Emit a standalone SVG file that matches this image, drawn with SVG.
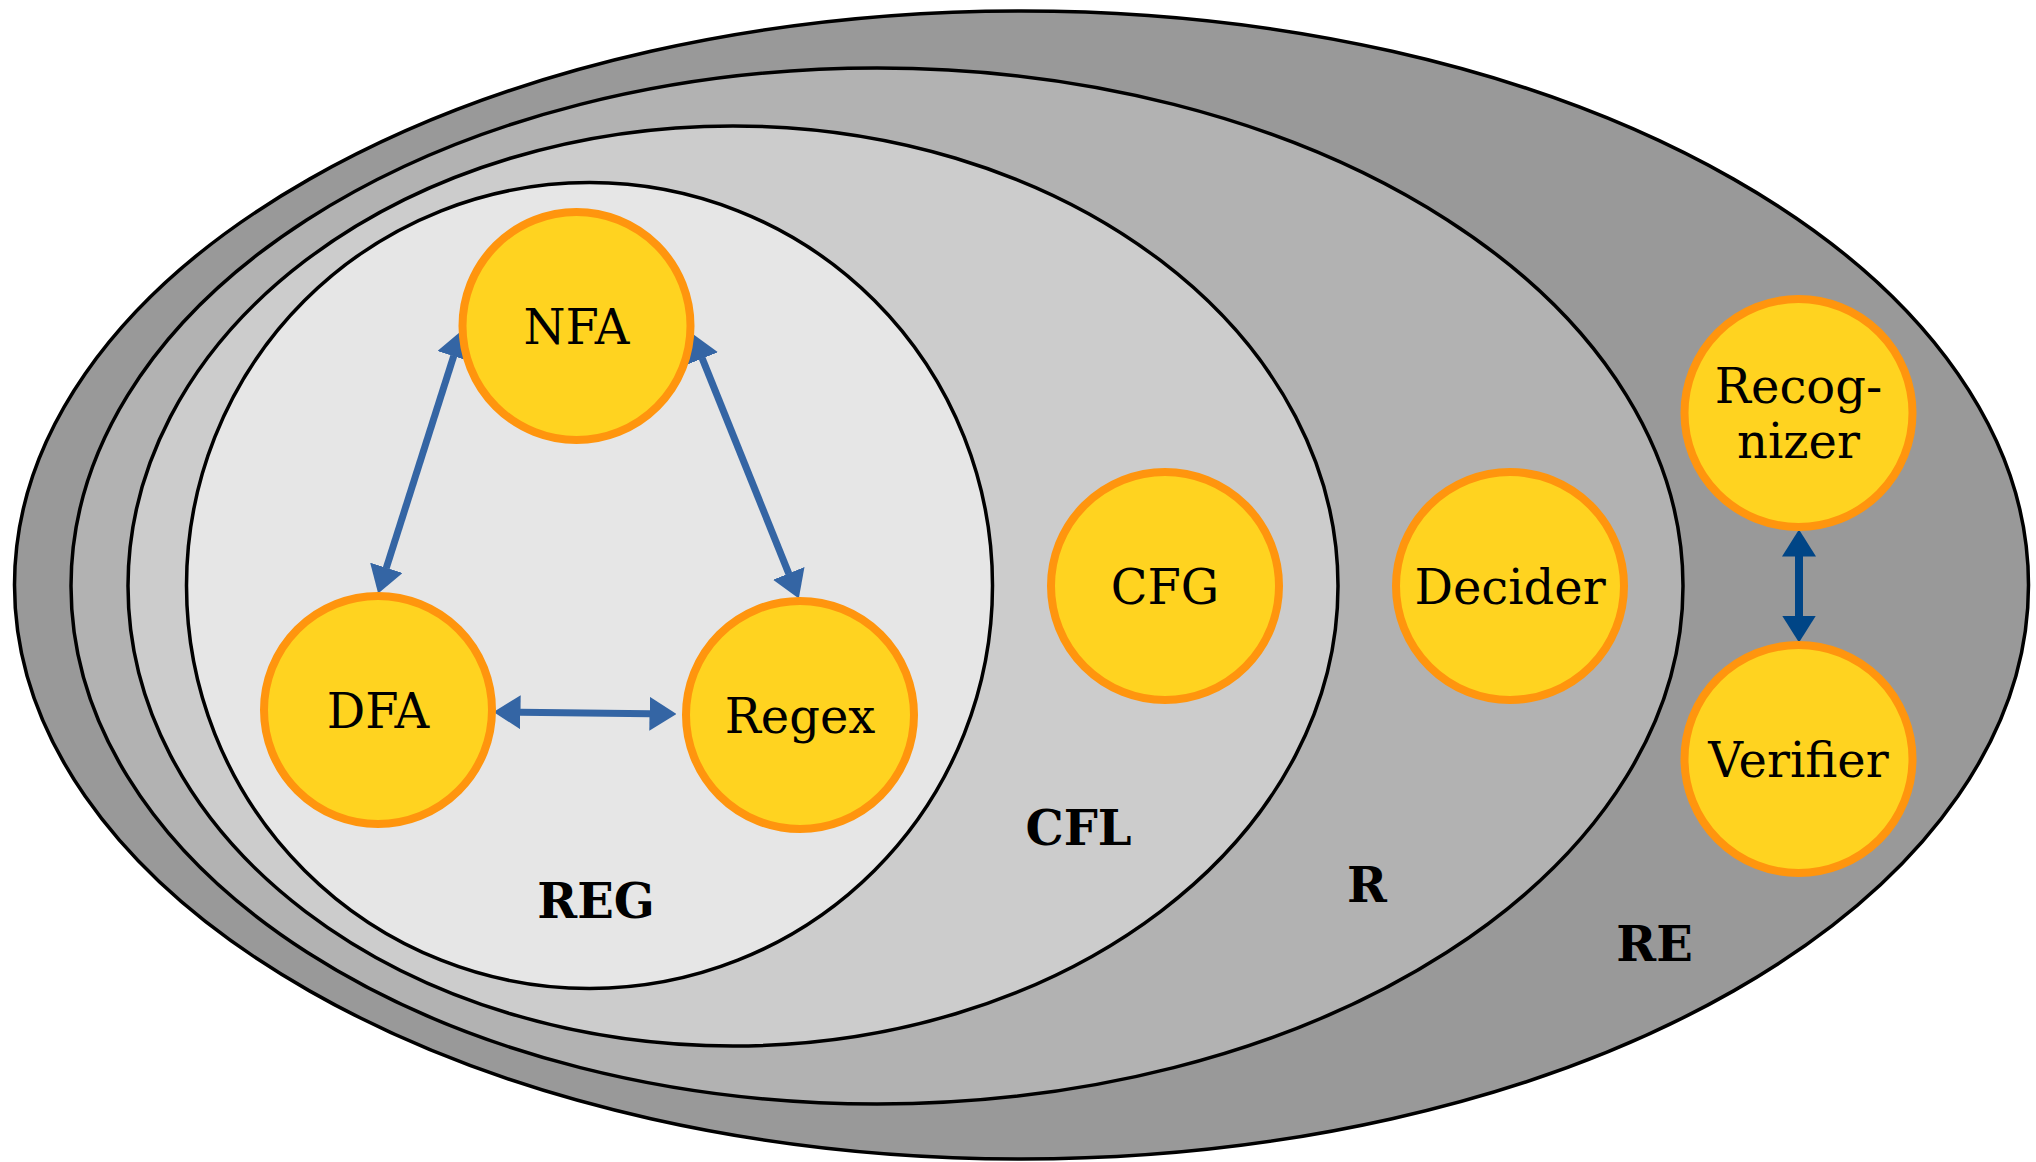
<svg xmlns="http://www.w3.org/2000/svg" width="2036" height="1162" viewBox="0 0 2036 1162">
<style>
.set{stroke:#000;stroke-width:3.5}
.node{fill:#FFD320;stroke:#FF950E;stroke-width:8}
.nl{font-family:"DejaVu Serif","Liberation Serif",serif;font-size:48px;fill:#000;text-anchor:middle}
.sl{font-family:"DejaVu Serif","Liberation Serif",serif;font-weight:bold;font-size:48px;fill:#000;text-anchor:middle}
.ab{fill:none;stroke:#3465A4;stroke-width:7;marker-start:url(#hb);marker-end:url(#hb)}
.ad{fill:none;stroke:#004586;stroke-width:8;marker-start:url(#hd);marker-end:url(#hd)}
</style>
<defs>
<marker id="hb" markerUnits="userSpaceOnUse" viewBox="0 0 27 34" refX="0.5" refY="17" markerWidth="27" markerHeight="34" orient="auto-start-reverse"><path d="M0,0 L27,17 L0,34 z" fill="#3465A4"/></marker>
<marker id="hd" markerUnits="userSpaceOnUse" viewBox="0 0 27 34" refX="0.5" refY="17" markerWidth="27" markerHeight="34" orient="auto-start-reverse"><path d="M0,0 L27,17 L0,34 z" fill="#004586"/></marker>
</defs>
<rect width="2036" height="1162" fill="#fff"/>
<g id="set-RE"><ellipse class="set" cx="1021.5" cy="585" rx="1007" ry="574" fill="#999999"/><text class="sl" x="1654.5" y="961">RE</text></g>
<g id="set-R"><ellipse class="set" cx="877" cy="586" rx="806" ry="518" fill="#B2B2B2"/><text class="sl" x="1367" y="902">R</text></g>
<g id="set-CFL"><ellipse class="set" cx="733" cy="586" rx="605" ry="460" fill="#CCCCCC"/><text class="sl" x="1078.5" y="845">CFL</text></g>
<g id="set-REG"><ellipse class="set" cx="589.5" cy="585.5" rx="403" ry="403" fill="#E6E6E6"/><text class="sl" x="596" y="918">REG</text></g>
<g id="connectors">
<path class="ab" d="M386.2,568.3 L453.8,355.7"/>
<path class="ab" d="M702.1,358.1 L788.9,573.9"/>
<path class="ab" d="M520,712.3 L650,713.7"/>
<path class="ad" d="M1799,556 L1799,616"/>
</g>
<g id="node-NFA"><circle class="node" cx="576.5" cy="326" r="114"/><text class="nl" x="576.5" y="343.5">NFA</text></g>
<g id="node-DFA"><circle class="node" cx="378" cy="710" r="114"/><text class="nl" x="378" y="727.5">DFA</text></g>
<g id="node-Regex"><circle class="node" cx="800" cy="715" r="114"/><text class="nl" x="800" y="732.5">Regex</text></g>
<g id="node-CFG"><circle class="node" cx="1165" cy="586" r="114"/><text class="nl" x="1165" y="603.5">CFG</text></g>
<g id="node-Decider"><circle class="node" cx="1510" cy="586" r="114"/><text class="nl" x="1510" y="603.5">Decider</text></g>
<g id="node-Recognizer"><circle class="node" cx="1798.5" cy="413" r="114"/><text class="nl" x="1798.5" y="403">Recog-</text><text class="nl" x="1798.5" y="458">nizer</text></g>
<g id="node-Verifier"><circle class="node" cx="1798.5" cy="759" r="114"/><text class="nl" x="1798.5" y="776.5">Verifier</text></g>
</svg>
